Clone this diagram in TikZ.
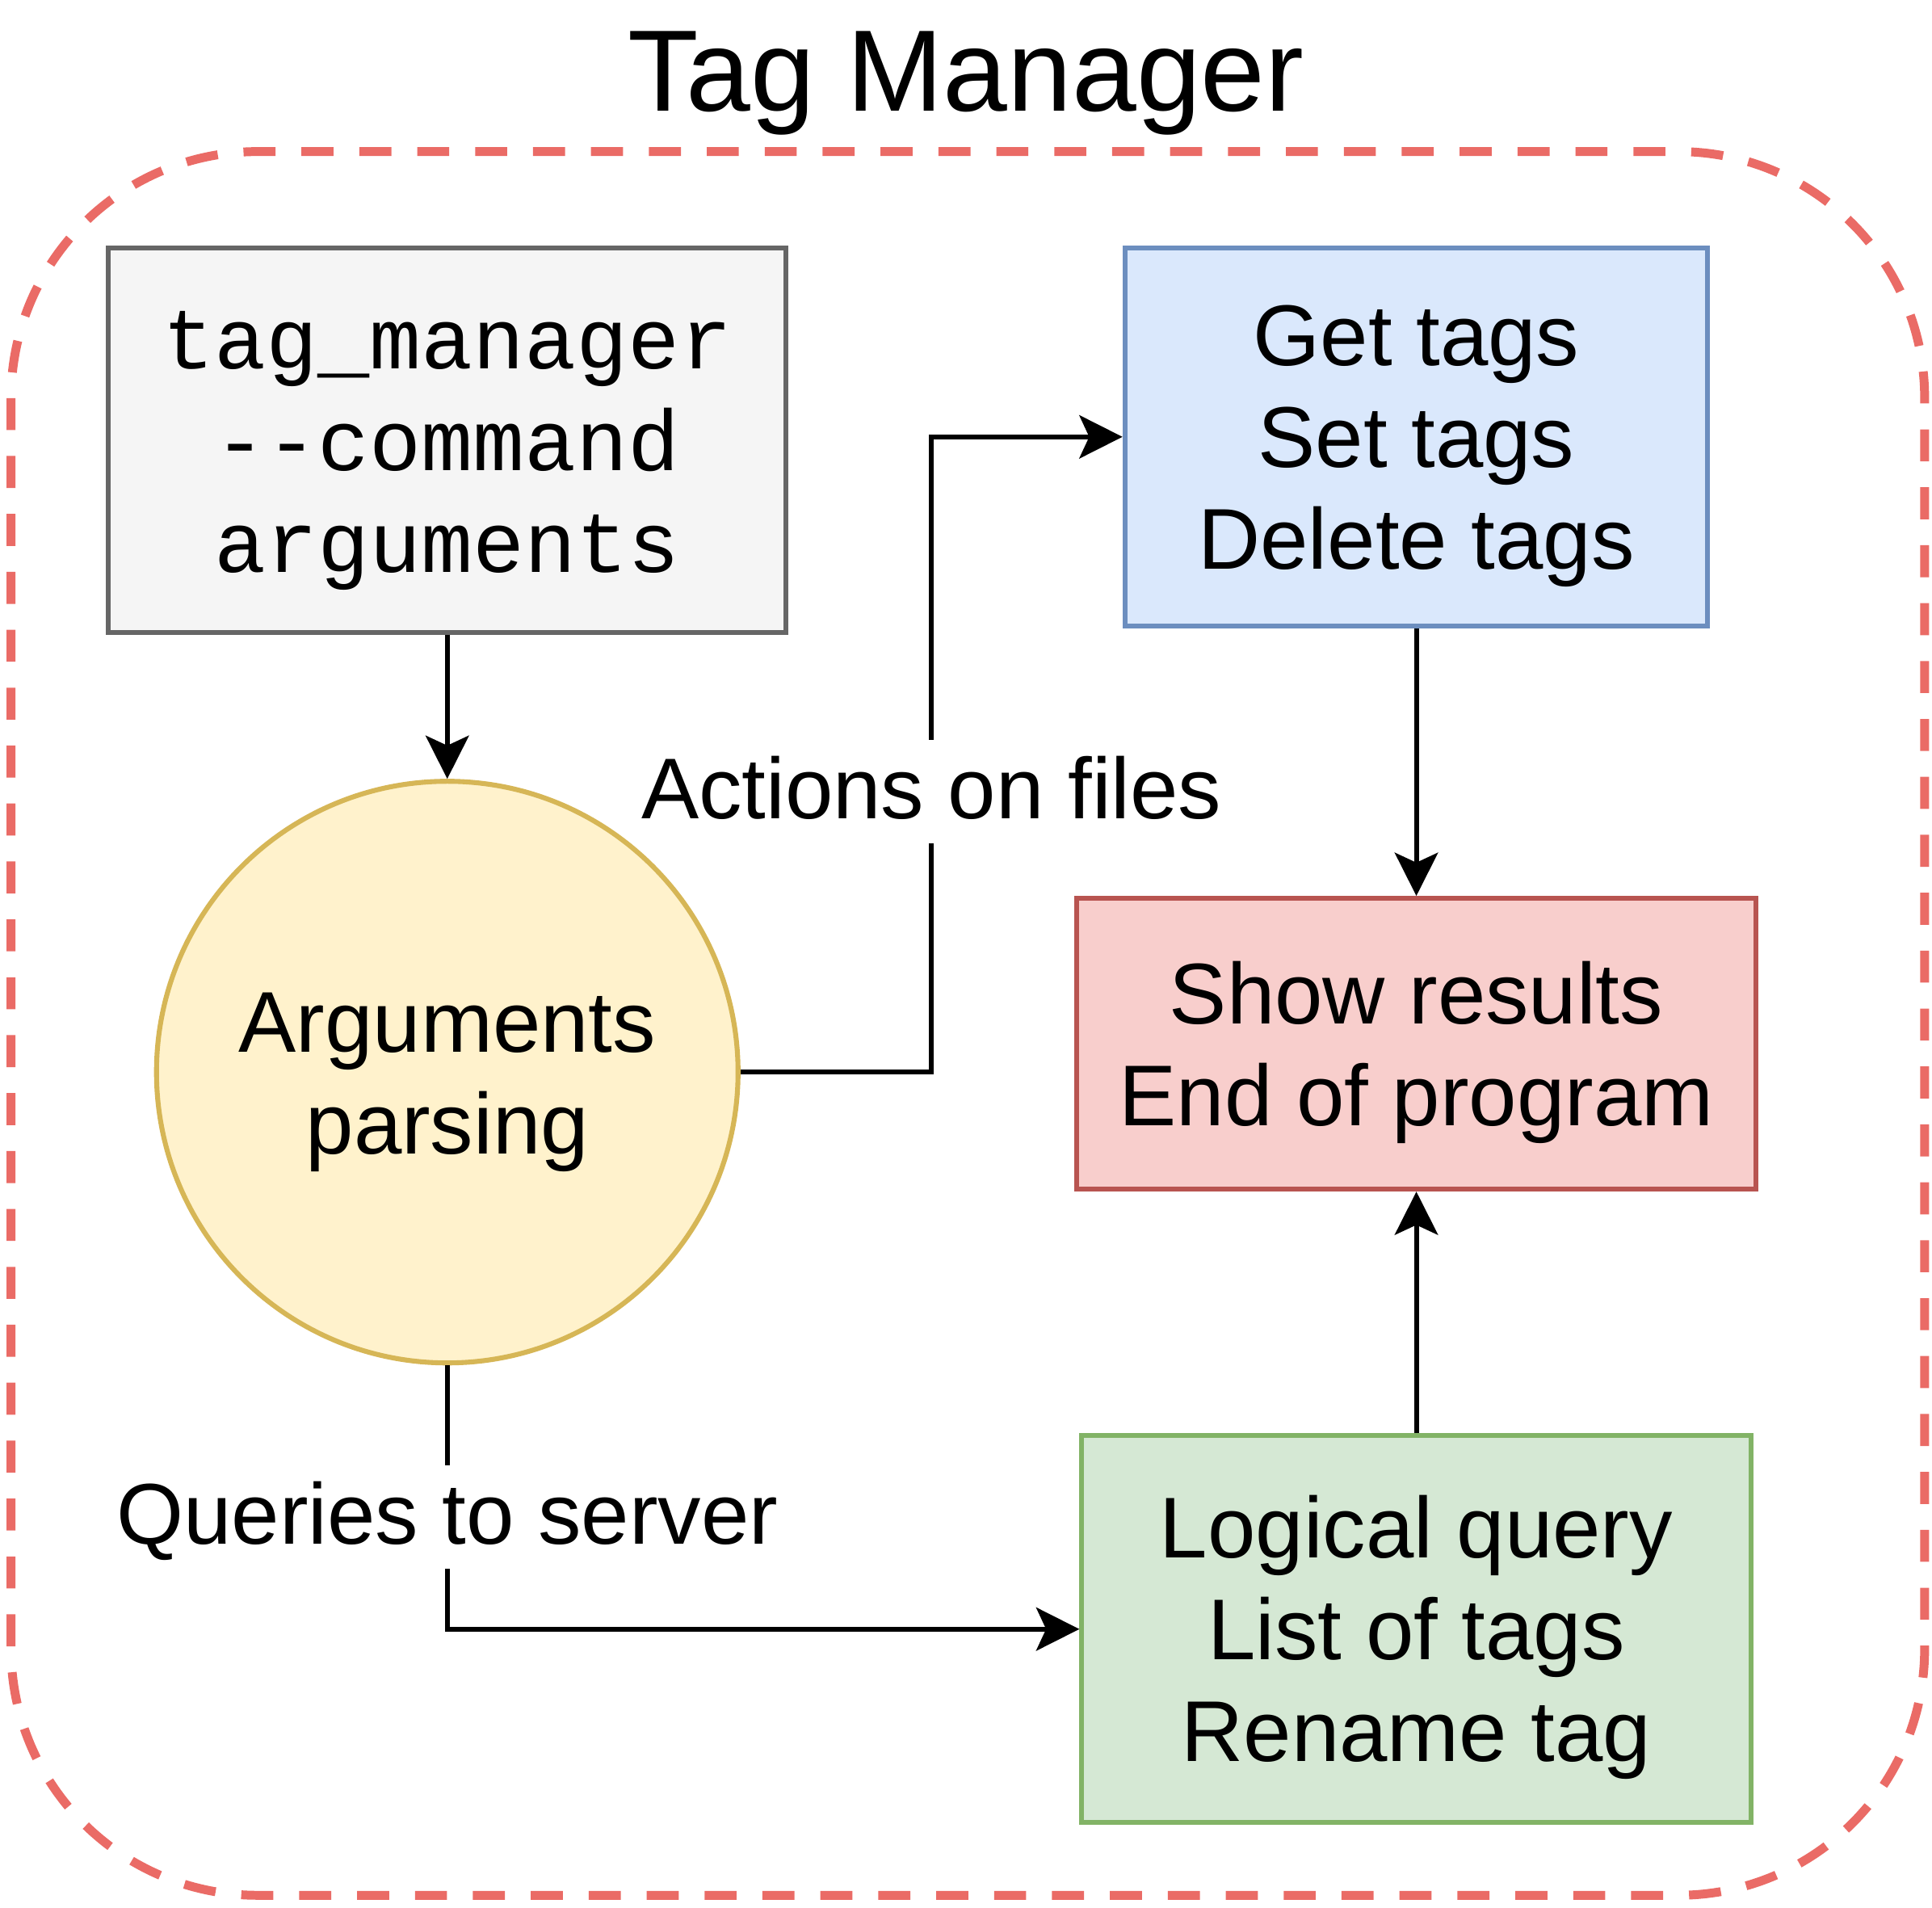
\documentclass[tikz,border=0pt]{standalone}
\usepackage{fontspec}
\setmainfont{Liberation Sans}
\setmonofont{Liberation Mono}
\usepackage{tikz}
\usetikzlibrary{arrows.meta}
\definecolor{frameline}{HTML}{EA6B66}
\definecolor{cmdfill}{HTML}{F5F5F5}
\definecolor{cmdline}{HTML}{666666}
\definecolor{parsefill}{HTML}{FFF2CC}
\definecolor{parseline}{HTML}{D6B656}
\definecolor{getfill}{HTML}{DAE8FC}
\definecolor{getline}{HTML}{6C8EBF}
\definecolor{resfill}{HTML}{F8CECC}
\definecolor{resline}{HTML}{B85450}
\definecolor{queryfill}{HTML}{D5E8D4}
\definecolor{queryline}{HTML}{82B366}
% line boxes as in the original drawing
\newcommand{\lntop}{\rule{0pt}{33.5pt}}
\newcommand{\lnbot}{\rule[-8.5pt]{0pt}{8.5pt}}

\begin{document}
\begin{tikzpicture}[
        x=0.5pt, y=-0.5pt,
        block/.style={
            rectangle,
            line width=2pt,
            inner sep=0pt,
            align=center,
            font=\fontsize{35}{41.3}\selectfont
        },
        flow/.style={
            line width=2pt,
            -{Stealth[length=17.5pt, width=17.5pt, inset=4pt]}
        },
        lbl/.style={
            fill=white,
            inner xsep=1pt,
            inner ysep=0pt,
            text height=32pt,
            text depth=10pt,
            font=\fontsize{35}{41.3}\selectfont
        }
    ]
        \useasboundingbox (0,0) rectangle (1568,1548);

        % outer frame
        \draw[
            frameline,
            line width=3.6pt,
            dash pattern=on 13pt off 10.5pt,
            rounded corners=100pt
        ] (9,123) rectangle (1562,1538);

        \node[anchor=base, font=\fontsize{47}{56}\selectfont] (title) at (784,90) {Tag Manager};

        % boxes
        \node[
            block,
            fill=cmdfill,
            draw=cmdline,
            minimum width=275pt,
            minimum height=156pt,
            font=\ttfamily\fontsize{35}{41.3}\selectfont
        ] (cmd) at (363,357) {\lntop tag\_manager\\{-}{-}command\\arguments\lnbot};

        \node[
            block,
            circle,
            fill=parsefill,
            draw=parseline,
            minimum size=236pt
        ] (parse) at (363,870) {\lntop Arguments\\parsing\lnbot};

        \node[
            block,
            fill=getfill,
            draw=getline,
            minimum width=236.5pt,
            minimum height=153.5pt
        ] (gettags) at (1149.5,354.5) {\lntop Get tags\\Set tags\\Delete tags\lnbot};

        \node[
            block,
            fill=resfill,
            draw=resline,
            minimum width=275.5pt,
            minimum height=118pt
        ] (results) at (1149.5,847) {\lntop Show results\\End of program\lnbot};

        \node[
            block,
            fill=queryfill,
            draw=queryline,
            minimum width=271.5pt,
            minimum height=157pt
        ] (query) at (1149.5,1322) {\lntop Logical query\\List of tags\\Rename tag\lnbot};

        % connectors
        \draw[flow] (cmd.south) -- (parse.north);
        \draw[flow] (parse.east) -- ++(155,0) |- node[lbl, pos=0.221] {Actions on files} (gettags.west);
        \draw[flow] (gettags.south) -- (results.north);
        \draw[flow] (query.north) -- (results.south);
        \draw[flow] (parse.south) |- node[lbl, pos=0.288] {Queries to server} (query.west);
    \end{tikzpicture}
\end{document}
